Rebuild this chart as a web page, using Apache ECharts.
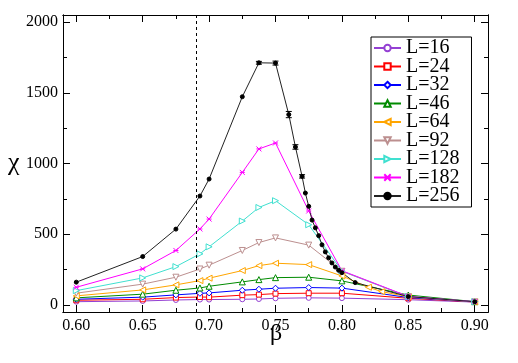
<!DOCTYPE html>
<html>
<head>
<meta charset="utf-8">
<script src="https://cdn.jsdelivr.net/npm/echarts@6/dist/echarts.min.js"></script>
<style>
  html, body { margin: 0; padding: 0; background: #fff; }
  #chart { width: 518px; height: 363px; }
</style>
</head>
<body>
<div id="chart"></div>
<script>
"use strict";

// beta values shared by most lattice sizes
var betaCommon = [0.60, 0.65, 0.675, 0.6931, 0.70, 0.725, 0.7375, 0.75, 0.775, 0.80, 0.85, 0.90];
var betaL64 = [0.60, 0.65, 0.675, 0.6931, 0.70, 0.725, 0.7375, 0.75, 0.775, 0.80, 0.82, 0.83, 0.85, 0.90];
var betaL256 = [0.60, 0.65, 0.675, 0.6931, 0.70, 0.725, 0.7375, 0.75, 0.76, 0.765, 0.77, 0.7725, 0.775,
    0.7775, 0.78, 0.7825, 0.785, 0.7875, 0.79, 0.7925, 0.795, 0.7975, 0.80, 0.81, 0.85, 0.90];

var chiL16 = [23, 28, 35, 38, 38, 40, 42, 47, 50, 48, 37, 20];
var chiL24 = [33, 40, 52, 56, 55, 69, 73, 80, 83, 83, 47, 21];
var chiL32 = [40, 55, 71, 82, 85, 104, 111, 118, 123, 119, 52, 22];
var chiL46 = [50, 76, 104, 120, 132, 163, 179, 193, 196, 170, 70, 23];
var chiL64 = [64, 106, 142, 172, 189, 243, 278, 295, 285, 205, 125, 94, 58, 22];
var chiL92 = [83, 147, 196, 254, 281, 385, 441, 474, 423, 238, 58, 22];
var chiL128 = [101, 191, 271, 361, 411, 593, 689, 737, 567, 240, 59, 23];
var chiL182 = [125, 255, 385, 537, 607, 937, 1103, 1145, 664, 242, 60, 23];
var chiL256 = [161, 342, 536, 770, 890, 1472, 1712, 1710, 1346, 1117, 909, 791, 697,
    600, 545, 490, 425, 375, 333, 297, 268, 245, 228, 158, 59, 23];

// error bars on the L=256 curve near the peak
var errBeta = [0.7375, 0.75, 0.76, 0.765, 0.77];
var errChi = [1712, 1710, 1346, 1117, 909];
var errSize = [10, 14, 22, 16, 12];

var xMajor = [0.60, 0.65, 0.70, 0.75, 0.80, 0.85, 0.90];
var xMinor = [0.625, 0.675, 0.725, 0.775, 0.825, 0.875];
var yMajor = [0, 500, 1000, 1500, 2000];
var yMinor = [250, 750, 1250, 1750];
var betaC = 0.6931;

var FONT = '"Liberation Serif", "Times New Roman", "DejaVu Serif", serif';

function zip(xs, ys) {
    var out = [];
    for (var i = 0; i < xs.length; i++) out.push([xs[i], ys[i]]);
    return out;
}

var tri = {
    left: 'path://M0,5 L10,0 L10,10 Z',
    down: 'path://M0,0 L10,0 L5,10 Z',
    right: 'path://M0,0 L10,5 L0,10 Z',
    cross: 'path://M0,0 L10,10 M10,0 L0,10 M0,5 L10,5'
};

function line(name, xs, ys, color, symbol, size, filled) {
    return {
        name: name,
        type: 'line',
        data: zip(xs, ys),
        symbol: symbol,
        symbolSize: size,
        lineStyle: { color: color, width: 1 },
        itemStyle: { color: filled ? color : '#fff', borderColor: color, borderWidth: 1 },
        emphasis: { disabled: true },
        z: 3
    };
}

var series = [
    line('L=16', betaCommon, chiL16, '#9440d3', 'circle', 5),
    line('L=24', betaCommon, chiL24, '#ff0000', 'rect', 5),
    line('L=32', betaCommon, chiL32, '#0000ff', 'diamond', 6),
    line('L=46', betaCommon, chiL46, '#008b00', 'triangle', 6),
    line('L=64', betaL64, chiL64, '#ffa500', tri.left, 6),
    line('L=92', betaCommon, chiL92, '#bc8f8f', tri.down, 6),
    line('L=128', betaCommon, chiL128, '#40e0d0', tri.right, 6),
    line('L=182', betaCommon, chiL182, '#ff00ff', tri.cross, 5, true),
    line('L=256', betaL256, chiL256, '#000000', 'circle', 4, true)
];
series[8].lineStyle.color = '#222';

series[0].markLine = {
    silent: true,
    symbol: ['none', 'none'],
    label: { show: false },
    lineStyle: { color: '#000', type: [3, 3], width: 1 },
    data: [{ xAxis: betaC }]
};

series.push({
    name: 'err',
    type: 'custom',
    data: errBeta.map(function (b, i) { return [b, errChi[i], errSize[i]]; }),
    renderItem: function (params, api) {
        var lo = api.coord([api.value(0), api.value(1) - api.value(2)]);
        var hi = api.coord([api.value(0), api.value(1) + api.value(2)]);
        var s = { stroke: '#000', lineWidth: 1 };
        return {
            type: 'group',
            children: [
                { type: 'line', shape: { x1: lo[0], y1: lo[1], x2: hi[0], y2: hi[1] }, style: s },
                { type: 'line', shape: { x1: lo[0] - 3, y1: lo[1], x2: lo[0] + 3, y2: lo[1] }, style: s },
                { type: 'line', shape: { x1: hi[0] - 3, y1: hi[1], x2: hi[0] + 3, y2: hi[1] }, style: s }
            ]
        };
    },
    z: 4
});

function xAx(pos, ticks, len, labels) {
    return {
        type: 'value', min: 0.59, max: 0.91, position: pos,
        axisLine: { show: true, onZero: false, lineStyle: { color: '#000', width: 1 } },
        axisTick: { show: true, inside: true, length: len, customValues: ticks, lineStyle: { color: '#000' } },
        axisLabel: {
            show: labels, customValues: ticks, margin: 6,
            formatter: function (v) { return v.toFixed(2); },
            fontFamily: FONT, fontSize: 16, color: '#000'
        },
        splitLine: { show: false }
    };
}

function yAx(pos, ticks, len, labels) {
    return {
        type: 'value', min: -50, max: 2050, position: pos,
        axisLine: { show: true, onZero: false, lineStyle: { color: '#000', width: 1 } },
        axisTick: { show: true, inside: true, length: len, customValues: ticks, lineStyle: { color: '#000' } },
        axisLabel: {
            show: labels, customValues: ticks, margin: 5,
            formatter: function (v) { return String(Math.round(v)); },
            fontFamily: FONT, fontSize: 16, color: '#000'
        },
        splitLine: { show: false }
    };
}

var chart = echarts.init(document.getElementById('chart'));

chart.setOption({
    animation: false,
    backgroundColor: '#fff',
    grid: { left: 63, top: 15, right: 30, bottom: 51, show: false },
    xAxis: [
        xAx('bottom', xMajor, 7, true),
        xAx('bottom', xMinor, 4, false),
        xAx('top', xMajor, 7, false),
        xAx('top', xMinor, 4, false)
    ],
    yAxis: [
        yAx('left', yMajor, 7, true),
        yAx('left', yMinor, 4, false),
        yAx('right', yMajor, 7, false),
        yAx('right', yMinor, 4, false)
    ],
    legend: {
        data: ['L=16', 'L=24', 'L=32', 'L=46', 'L=64', 'L=92', 'L=128', 'L=182', 'L=256'],
        orient: 'vertical',
        left: 371,
        top: 37,
        padding: [1, 12, 1, 2],
        itemWidth: 27,
        itemHeight: 8,
        itemGap: -1.5,
        backgroundColor: '#fff',
        borderColor: '#000',
        borderWidth: 1,
        selectedMode: false,
        textStyle: { fontFamily: FONT, fontSize: 20, lineHeight: 18, color: '#000' }
    },
    graphic: [
        {
            type: 'text', left: 8, top: 150,
            style: { text: 'χ', font: '26px ' + FONT, fill: '#000' }
        },
        {
            type: 'text', left: 270, top: 322,
            style: { text: 'β', font: '24px ' + FONT, fill: '#000' }
        }
    ],
    series: series
});
</script>
</body>
</html>
